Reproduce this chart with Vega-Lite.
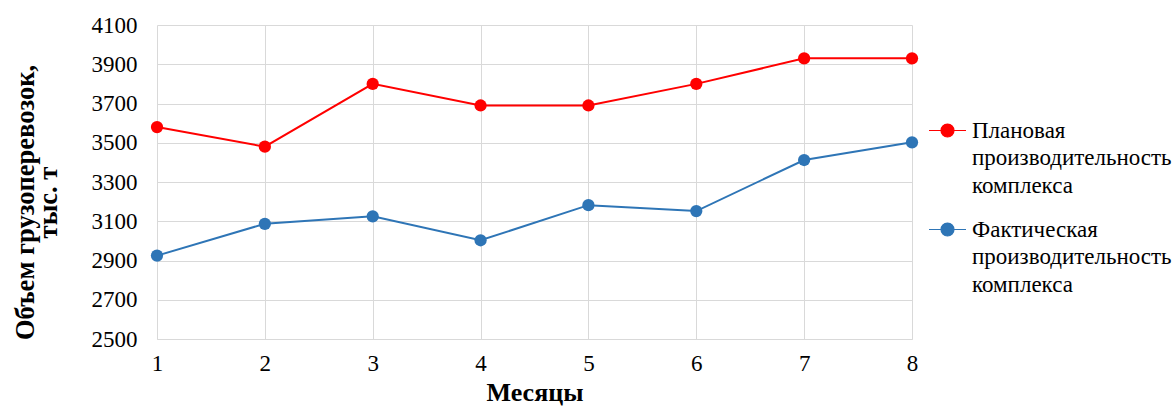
{
  "$schema": "https://vega.github.io/schema/vega-lite/v6.json",
  "width": 755,
  "height": 314,
  "autosize": {"type": "none"},
  "padding": {"left": 157, "top": 25, "right": 262, "bottom": 68},
  "background": "white",
  "config": {
    "view": {"stroke": null},
    "font": "Liberation Serif",
    "axis": {"labelColor": "#000", "titleColor": "#000", "gridColor": "#d9d9d9", "gridWidth": 1, "ticks": false}
  },
  "data": {
    "values": [
      {"month": 1, "series": "Плановая|производительность|комплекса", "value": 3580},
      {"month": 2, "series": "Плановая|производительность|комплекса", "value": 3480},
      {"month": 3, "series": "Плановая|производительность|комплекса", "value": 3800},
      {"month": 4, "series": "Плановая|производительность|комплекса", "value": 3690},
      {"month": 5, "series": "Плановая|производительность|комплекса", "value": 3690},
      {"month": 6, "series": "Плановая|производительность|комплекса", "value": 3800},
      {"month": 7, "series": "Плановая|производительность|комплекса", "value": 3930},
      {"month": 8, "series": "Плановая|производительность|комплекса", "value": 3930},
      {"month": 1, "series": "Фактическая|производительность|комплекса", "value": 2925},
      {"month": 2, "series": "Фактическая|производительность|комплекса", "value": 3087},
      {"month": 3, "series": "Фактическая|производительность|комплекса", "value": 3125},
      {"month": 4, "series": "Фактическая|производительность|комплекса", "value": 3003},
      {"month": 5, "series": "Фактическая|производительность|комплекса", "value": 3182},
      {"month": 6, "series": "Фактическая|производительность|комплекса", "value": 3152},
      {"month": 7, "series": "Фактическая|производительность|комплекса", "value": 3412},
      {"month": 8, "series": "Фактическая|производительность|комплекса", "value": 3502}
    ]
  },
  "encoding": {
    "x": {
      "field": "month", "type": "quantitative",
      "scale": {"domain": [1, 8], "nice": false},
      "axis": {"values": [1, 2, 3, 4, 5, 6, 7, 8], "format": "d", "labelFlush": false, "title": "Месяцы", "titleFont": "Liberation Serif", "titleFontSize": 26, "titleFontWeight": "bold", "titlePadding": 4, "labelFont": "Liberation Serif", "labelFontSize": 23, "labelPadding": 13, "domainColor": "#d9d9d9", "grid": true}
    },
    "y": {
      "field": "value", "type": "quantitative",
      "scale": {"domain": [2500, 4100], "nice": false, "zero": false},
      "axis": {"values": [2500, 2700, 2900, 3100, 3300, 3500, 3700, 3900, 4100], "format": "d", "title": ["Объем грузоперевозок,", "тыс. т"], "titleFont": "Liberation Serif", "titleFontSize": 26.5, "titleFontWeight": "bold", "titleLineHeight": 23, "titlePadding": 29, "titleY": 177, "labelFont": "Liberation Serif", "labelFontSize": 23, "labelPadding": 20, "domain": false, "grid": true}
    },
    "color": {
      "field": "series", "type": "nominal",
      "scale": {"domain": ["Плановая|производительность|комплекса", "Фактическая|производительность|комплекса"], "range": ["#ff0000", "#2e75b6"]},
      "legend": {
        "title": null,
        "orient": "none",
        "legendX": 771,
        "legendY": 86,
        "labelExpr": "split(datum.label, '|')",
        "labelFont": "Liberation Serif",
        "labelFontSize": 23,
        "labelColor": "#000",
        "labelLimit": 300,
        "labelOffset": 5,
        "labelBaseline": "middle",
        "rowPadding": 12,
        "symbolType": "M-1,0 L-0.35,0 M0.35,0 L1,0 M-0.35,0 A0.35,0.35 0 1,1 0.35,0 A0.35,0.35 0 1,1 -0.35,0 Z",
        "symbolSize": 1369,
        "symbolStrokeWidth": 1.2,
        "encode": {
          "symbols": {"update": {"fill": {"scale": "color", "field": "value"}, "stroke": {"scale": "color", "field": "value"}, "opacity": {"value": 1}}},
          "labels": {"update": {"lineHeight": {"value": 27.5}}}
        }
      }
    }
  },
  "layer": [
    {"mark": {"type": "line", "strokeWidth": 2}},
    {"mark": {"type": "point", "filled": true, "size": 150, "opacity": 1}}
  ]
}
